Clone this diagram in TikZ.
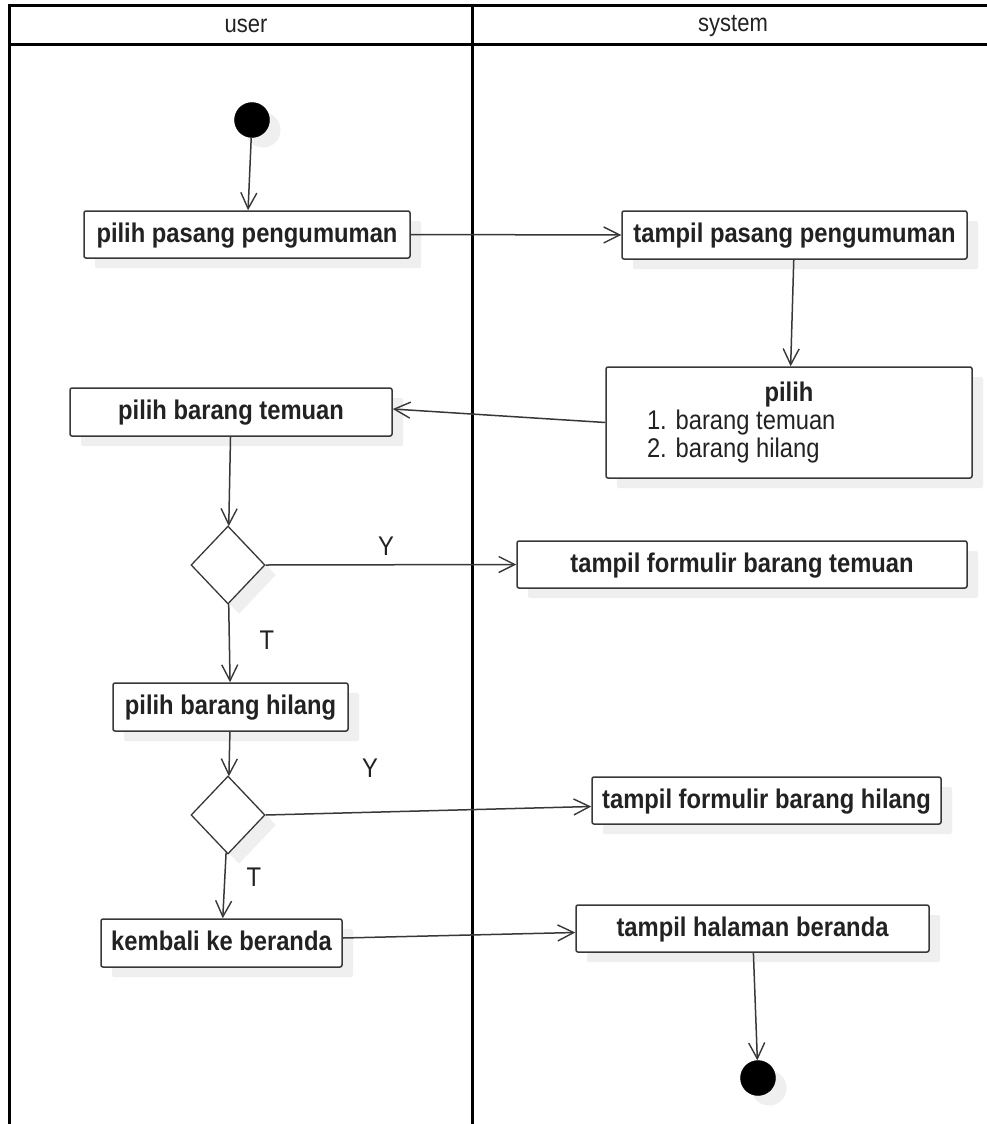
\documentclass[tikz,border=0pt]{standalone}
\usepackage{fontspec}
\setmainfont{Liberation Sans}
\newfontfamily\diagfont{Liberation Sans}[FakeStretch=0.88]
\usetikzlibrary{arrows.meta,shapes.geometric,shadows}
\definecolor{edge}{HTML}{383838}
\definecolor{shade}{HTML}{EFEFEF}
\definecolor{ink}{HTML}{222222}
\begin{document}
\begin{tikzpicture}[x=1pt,y=-1pt,
  txt/.style={font=\diagfont\fontsize{27}{28}\selectfont, text=ink, inner sep=0pt},
  soft/.style={drop shadow={shadow xshift=11pt, shadow yshift=-10pt, fill=shade, opacity=1}},
  act/.style={txt, draw=edge, line width=1.5pt, rounded corners=2pt, fill=white,
    font=\diagfont\bfseries\fontsize{27}{28}\selectfont, soft, text depth=0pt, text height=15pt},
  decide/.style={diamond, draw=edge, line width=1.3pt, fill=white, inner sep=0pt,
    minimum width=74pt, minimum height=78pt, soft},
  dot/.style={circle, fill=black, draw=black, inner sep=0pt, minimum size=35pt, soft},
  flow/.style={draw=edge, line width=1.5pt,
    -{Straight Barb[length=16pt,width=16pt,line width=1.4pt]}},
  lane/.style={draw=black, line width=3pt},
  head/.style={txt, font=\diagfont\fontsize{25}{28}\selectfont}
]
\useasboundingbox (0,0) rectangle (987,1124);
\fill[white] (0,0) rectangle (987,1124);

% swimlanes
\draw[lane] (9,1135) -- (9,6) -- (1000,6);
\draw[lane] (9,45) -- (1000,45);
\draw[lane] (472,6) -- (472,1135);
\node[head] (hu) at (246,26) {user};
\node[head] (hs) at (733,26) {system};

% start
\node[dot] (start) at (252,120) {};

% activities
\node[act, minimum width=326pt, minimum height=47pt] (pp) at (247,234.5) {pilih pasang pengumuman};
\node[act, minimum width=345pt, minimum height=48pt] (tp) at (794.5,235) {tampil pasang pengumuman};
\node[act, minimum width=366pt, minimum height=111pt, align=center, text height=, text depth=] (pl) at (789,422.5)
  {\textbf{pilih}\\\mdseries\makebox[284pt][l]{1. barang temuan}\\\mdseries\makebox[284pt][l]{2. barang hilang}};
\node[act, minimum width=322pt, minimum height=48pt] (bt) at (231,412) {pilih barang temuan};
\node[decide] (d1) at (228,565) {};
\node[act, minimum width=450pt, minimum height=47pt] (ft) at (742,564.5) {tampil formulir barang temuan};
\node[act, minimum width=235pt, minimum height=48pt] (bh) at (230.5,707) {pilih barang hilang};
\node[decide] (d2) at (228,815) {};
\node[act, minimum width=349pt, minimum height=47pt] (fh) at (766.5,800.5) {tampil formulir barang hilang};
\node[act, minimum width=241pt, minimum height=48pt] (kb) at (221.5,943) {kembali ke beranda};
\node[act, minimum width=353pt, minimum height=47pt] (th) at (752.5,928.5) {tampil halaman beranda};

% end
\node[dot] (stop) at (758,1078) {};

% guard labels
\node[txt] (y1) at (386,546) {Y};
\node[txt] (t1) at (267,640) {T};
\node[txt] (y2) at (370,768) {Y};
\node[txt] (t2) at (254,877) {T};

% flows
\draw[flow] (start) -- (pp);
\draw[flow] (pp.east) -- (tp.west);
\draw[flow] (tp) -- (pl);
\draw[flow] (pl.west) -- ([yshift=3pt]bt.east);
\draw[flow] (bt) -- (d1);
\draw[flow] (d1.east) -- (ft.west);
\draw[flow] (d1) -- (bh);
\draw[flow] (bh) -- (d2);
\draw[flow] (d2.east) -- ([yshift=-6pt]fh.west);
\draw[flow] (d2) -- (kb);
\draw[flow] ([yshift=5pt]kb.east) -- ([yshift=-4pt]th.west);
\draw[flow] (th) -- (stop);
\end{tikzpicture}
\end{document}
